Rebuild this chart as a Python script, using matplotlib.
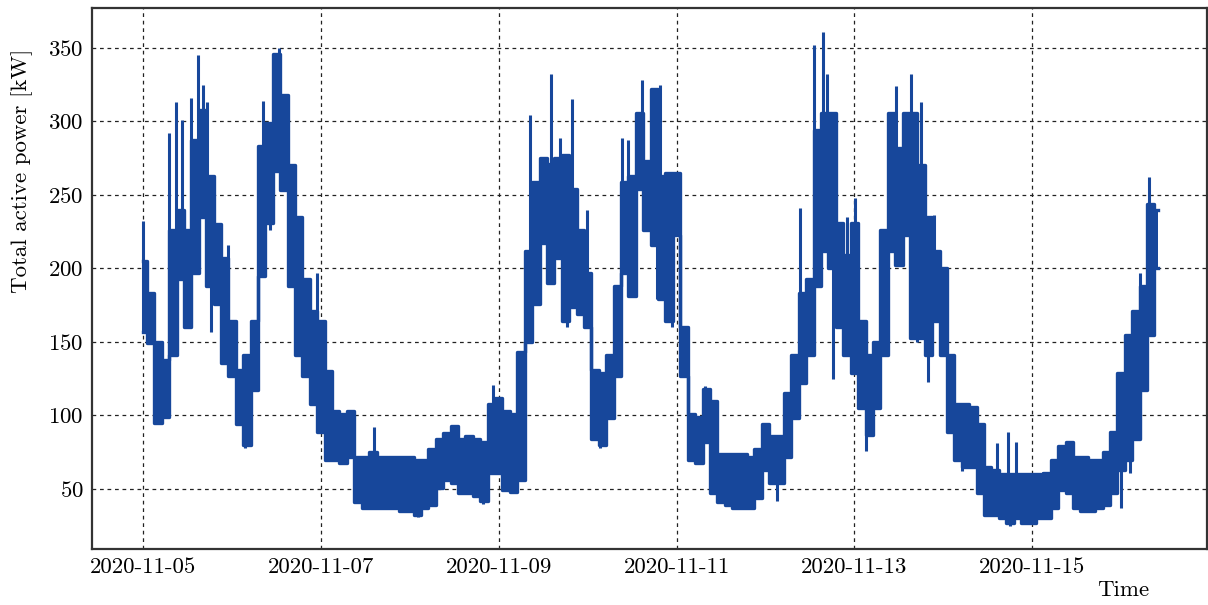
import numpy as np
import pandas as pd
import matplotlib
matplotlib.use("Agg")
import matplotlib.pyplot as plt
import matplotlib.dates as mdates

plt.rcParams["font.family"] = "serif"
plt.rcParams["font.serif"] = ["cmr10"]
plt.rcParams["mathtext.fontset"] = "cm"
plt.rcParams["axes.formatter.use_mathtext"] = True

# envelope of the signal, one sample every 2 hours from 2020-11-05 00:00
start = "2020-11-05"
hours = list(range(0, 275, 2))
power_lo = [
    157, 149, 95, 99, 141, 193, 160, 197, 235, 188, 176, 136,
    127, 94, 80, 117, 195, 231, 266, 253, 188, 141, 127, 108,
    89, 70, 70, 68, 72, 41, 37, 37, 37, 37, 37, 35,
    35, 32, 37, 39, 51, 56, 54, 47, 47, 45, 42, 61,
    61, 49, 48, 56, 150, 176, 217, 190, 207, 164, 174, 169,
    160, 84, 80, 98, 127, 197, 181, 254, 226, 216, 179, 164,
    223, 127, 70, 68, 82, 47, 41, 39, 37, 37, 37, 44,
    63, 54, 54, 72, 98, 122, 141, 188, 212, 200, 160, 141,
    129, 105, 87, 105, 141, 212, 202, 223, 153, 153, 141, 164,
    141, 89, 70, 65, 65, 47, 32, 32, 30, 27, 30, 27,
    27, 30, 30, 37, 49, 47, 37, 35, 35, 37, 39, 47,
    63, 70, 84, 117, 155, 200,
]
power_hi = [
    205, 183, 150, 138, 226, 240, 226, 287, 308, 263, 230, 207,
    164, 131, 141, 164, 283, 299, 346, 318, 270, 235, 193, 171,
    164, 130, 103, 101, 103, 72, 72, 75, 72, 72, 72, 72,
    72, 70, 70, 77, 84, 88, 93, 84, 86, 84, 82, 108,
    112, 103, 101, 143, 212, 259, 275, 271, 275, 277, 254, 226,
    197, 131, 129, 141, 188, 259, 263, 306, 273, 322, 263, 265,
    265, 160, 101, 99, 118, 110, 74, 74, 74, 74, 72, 77,
    94, 86, 86, 115, 141, 183, 193, 294, 306, 306, 231, 209,
    231, 164, 141, 150, 226, 306, 282, 306, 306, 270, 235, 212,
    200, 141, 108, 108, 106, 94, 65, 63, 60, 60, 60, 60,
    60, 60, 61, 70, 79, 82, 72, 72, 70, 70, 75, 89,
    129, 155, 171, 188, 244, 240,
]

# isolated upward spikes and downward dips (hours since start, kW)
spike_hours = [0, 7.1, 8.9, 10.6, 13.0, 14.9, 16.2, 17.3, 23.0, 32.4,
               36.7, 46.8, 62.4, 94.4, 104.3, 110.0, 112.5, 115.7, 119.7, 129.3,
               131.0, 134.6, 137.7, 139.5, 151.7, 177.2, 181.2, 183.4, 184.6, 190.0,
               192.3, 203.3, 207.4, 210.1, 213.4, 230.5, 233.6, 235.7, 269.2, 271.6]
spike_peaks = [232, 292, 313, 301, 316, 345, 325, 313, 216, 314,
               350, 197, 92, 121, 304, 332, 289, 315, 240, 289,
               287, 328, 322, 325, 120, 241, 352, 361, 332, 235,
               248, 324, 332, 313, 236, 81, 89, 82, 197, 262]
dip_hours = [18.2, 27.4, 34.2, 45.8, 74.1, 91.7, 114.5, 123.3, 132.0, 138.7,
             142.7, 171.0, 186.2, 195.0, 209.0, 212.0, 221.0, 234.0, 263.9, 266.3,
             269.2]
dip_values = [157, 78, 226, 107, 31, 40, 160, 78, 181, 179,
              160, 42, 125, 76, 150, 123, 62, 25, 37, 61,
              84]

color = "#17479b"
t0 = pd.Timestamp(start)
t = t0 + pd.to_timedelta(hours, unit="h")
lo = np.array(power_lo, dtype=float)
hi = np.array(power_hi, dtype=float)
hrs = np.array(hours, dtype=float)

fig = plt.figure(figsize=(12.08, 6.05), dpi=100)
ax = fig.add_axes([0.0762, 0.0926, 0.923, 0.894])

ax.fill_between(t, lo, hi, step="mid", color=color, lw=0)
ax.plot(t, lo, color=color, lw=2.4, drawstyle="steps-mid")
ax.plot(t, hi, color=color, lw=2.4, drawstyle="steps-mid")

for h, p in zip(spike_hours, spike_peaks):
    i = int(np.argmin(np.abs(hrs - h)))
    ts = t0 + pd.Timedelta(hours=h)
    ax.vlines(ts, lo[i], p, color=color, lw=2.2)
for h, v in zip(dip_hours, dip_values):
    i = int(np.argmin(np.abs(hrs - h)))
    ts = t0 + pd.Timedelta(hours=h)
    ax.vlines(ts, v, hi[i], color=color, lw=2.2)

ax.set_xlim(t0 - pd.Timedelta(hours=13.8), t0 + pd.Timedelta(hours=287.2))
ax.set_ylim(9.2, 377)
ax.xaxis.set_major_locator(mdates.DayLocator(bymonthday=[5, 7, 9, 11, 13, 15]))
ax.xaxis.set_major_formatter(mdates.DateFormatter("%Y-%m-%d"))
ax.set_yticks([50, 100, 150, 200, 250, 300, 350])

ax.grid(True, color="#222222", linestyle=(0, (3, 3)), lw=0.9)
ax.set_axisbelow(True)
ax.tick_params(length=0, pad=6, labelsize=16.5)
for s in ax.spines.values():
    s.set_color("#333333")
    s.set_linewidth(1.6)

ax.set_ylabel("Total active power [kW]", fontsize=16.5)
ax.yaxis.set_label_coords(-0.053, 0.70)
ax.set_xlabel("Time", fontsize=16.5, va="top")
ax.xaxis.set_label_coords(0.925, -0.058)

fig.savefig("out.png", dpi=100)
